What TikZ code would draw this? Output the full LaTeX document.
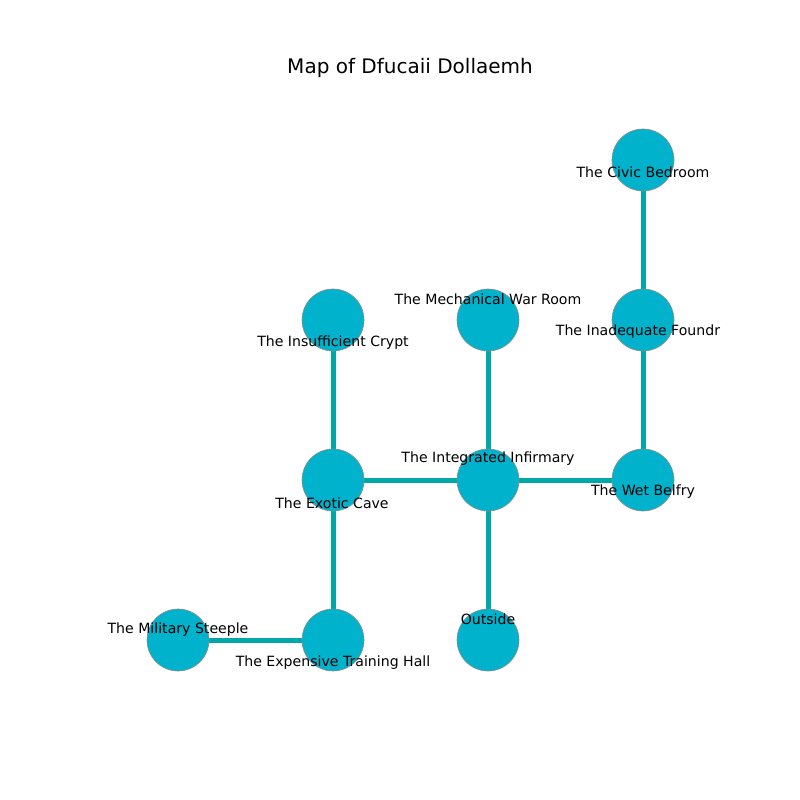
\documentclass[tikz,border=0pt]{standalone}
\usepackage{fontspec}
\setmainfont{DejaVu Sans}
\usetikzlibrary{backgrounds}
\definecolor{roomfill}{HTML}{00B2CB}
\definecolor{passage}{HTML}{00A7A9}
\tikzset{
  room/.style={circle,fill=roomfill,draw=black!45,line width=0.3pt,minimum size=31pt,inner sep=0pt},
  passage/.style={line width=2.5pt,draw=passage},
  roomname/.style={font=\fontsize{7.05}{8}\selectfont,inner sep=0pt}
}

\begin{document}
\begin{tikzpicture}[x=0.5pt,y=-0.5pt]
\useasboundingbox (0,0) rectangle (800,800);
\node [font=\fontsize{10}{12}\selectfont] (title) at (410,68) {Map of Dfucaii Dollaemh};
% rooms
\node [room] (civic) at (643,160) {};
\node [room] (mech) at (488,320) {};
\node [room] (found) at (643,320) {};
\node [room] (crypt) at (333,320) {};
\node [room] (cave) at (333,480) {};
\node [room] (infirm) at (488,480) {};
\node [room] (belfry) at (643,480) {};
\node [room] (steeple) at (178,640) {};
\node [room] (hall) at (333,640) {};
\node [room] (outside) at (488,640) {};
% passages
\begin{scope}[on background layer]
\draw [passage] (civic.center) -- (found.center);
\draw [passage] (found.center) -- (belfry.center);
\draw [passage] (infirm.center) -- (belfry.center);
\draw [passage] (cave.center) -- (infirm.center);
\draw [passage] (infirm.center) -- (mech.center);
\draw [passage] (infirm.center) -- (outside.center);
\draw [passage] (crypt.center) -- (cave.center);
\draw [passage] (cave.center) -- (hall.center);
\draw [passage] (steeple.center) -- (hall.center);
\end{scope}
% names
\node [roomname] (civicname) at (643,172) {The Civic Bedroom};
\node [roomname] (mechname) at (488,299) {The Mechanical War Room};
\node [roomname] (foundname) at (638,332) {The Inadequate Foundr};
\node [roomname] (cryptname) at (333,343) {The Insufficient Crypt};
\node [roomname] (infirmname) at (488,459) {The Integrated Infirmary};
\node [roomname] (cavename) at (332,503) {The Exotic Cave};
\node [roomname] (belfryname) at (643,492) {The Wet Belfry};
\node [roomname] (steeplename) at (178,630) {The Military Steeple};
\node [roomname] (outsidename) at (488,619) {Outside};
\node [roomname] (hallname) at (333,663) {The Expensive Training Hall};
\end{tikzpicture}
\end{document}
